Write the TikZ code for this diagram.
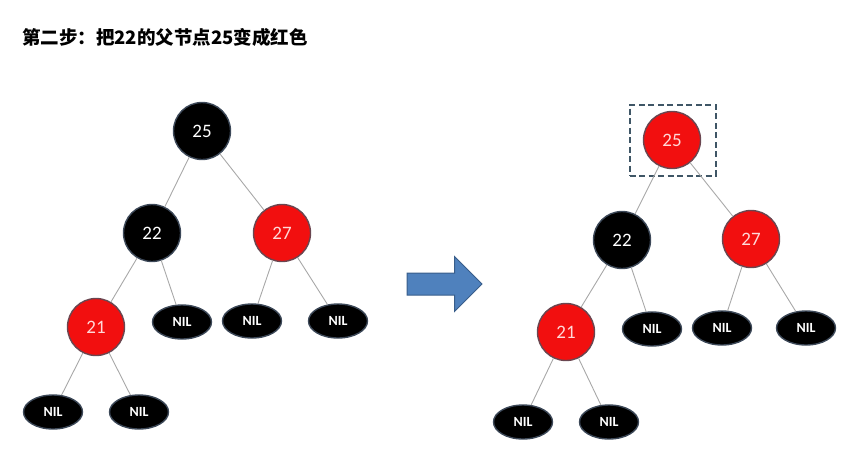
\documentclass[tikz,border=0pt]{standalone}
\usepackage{fontspec}
\setmainfont{Carlito}
\newfontfamily\cjk{Noto Sans CJK SC}
\usepackage{tikz}
\usetikzlibrary{shapes.geometric, shapes.arrows, positioning}

\definecolor{rbred}{HTML}{F20F0F}
\definecolor{rbedge}{HTML}{A8A8A8}
\definecolor{rbrim}{HTML}{3C4858}
\definecolor{redrim}{HTML}{6A4650}
\definecolor{arrfill}{HTML}{4F81BD}
\definecolor{arrdraw}{HTML}{385D8A}
\definecolor{boxdraw}{HTML}{3F5666}

\begin{document}
\begin{tikzpicture}[
    x=1pt, y=-1pt,
    blacknode/.style = {
        circle, draw=rbrim, line width=1.4pt, fill=black,
        minimum size=57pt, inner sep=0pt,
        text=white, font=\fontsize{19}{19}\selectfont
    },
    rednode/.style = {
        circle, draw=redrim, line width=1.4pt, fill=rbred,
        minimum size=57pt, inner sep=0pt,
        text=red!15, font=\fontsize{19}{19}\selectfont
    },
    nilnode/.style = {
        ellipse, draw=rbrim, line width=1.4pt, fill=black,
        minimum width=59pt, minimum height=34pt, inner sep=0pt,
        text=white, font=\fontsize{14}{14}\selectfont\bfseries
    },
    edge/.style = {draw=rbedge, line width=0.9pt}
]
\useasboundingbox (0,0) rectangle (853,453);

% Título
\node[anchor=west, inner sep=0pt, font=\cjk\bfseries\fontsize{18.5}{18.5}\selectfont] (title)
    at (22,37) {第二步：把22的父节点25变成红色};

% Árbol izquierdo
\node[blacknode] (l25) at (202,131) {25};
\node[blacknode] (l22) at (152,233) {22};
\node[rednode]   (l27) at (282,233) {27};
\node[rednode]   (l21) at (96,327)  {21};
\node[nilnode]   (ln1) at (182,322) {NIL};
\node[nilnode]   (ln2) at (252,321) {NIL};
\node[nilnode]   (ln3) at (338,321) {NIL};
\node[nilnode]   (ln4) at (53,412)  {NIL};
\node[nilnode]   (ln5) at (139,412) {NIL};

% Flecha central
\node[single arrow, draw=arrdraw, fill=arrfill, line width=1pt,
      minimum height=75pt, inner xsep=0pt, inner ysep=10.5pt,
      single arrow head extend=16.5pt, single arrow tip angle=90] (arr)
    at (439,284) {};

% Árbol derecho
\node[rednode]   (r25) at (672,140) {25};
\node[blacknode] (r22) at (622,240) {22};
\node[rednode]   (r27) at (751,239) {27};
\node[rednode]   (r21) at (566,332) {21};
\node[nilnode]   (rn1) at (652,329) {NIL};
\node[nilnode]   (rn2) at (722,328) {NIL};
\node[nilnode]   (rn3) at (806,328) {NIL};
\node[nilnode]   (rn4) at (523,422) {NIL};
\node[nilnode]   (rn5) at (609,422) {NIL};

% Recuadro punteado
\node[draw=boxdraw, line width=2pt, dash pattern=on 6pt off 3.5pt,
      minimum width=86pt, minimum height=71pt, inner sep=0pt] (mark)
    at (672.5,140) {};

% Aristas
\draw[edge] (l25) -- (l22);
\draw[edge] (l25) -- (l27);
\draw[edge] (l22) -- (l21);
\draw[edge] (l22) -- (ln1);
\draw[edge] (l27) -- (ln2);
\draw[edge] (l27) -- (ln3);
\draw[edge] (l21) -- (ln4);
\draw[edge] (l21) -- (ln5);
\draw[edge] (r25) -- (r22);
\draw[edge] (r25) -- (r27);
\draw[edge] (r22) -- (r21);
\draw[edge] (r22) -- (rn1);
\draw[edge] (r27) -- (rn2);
\draw[edge] (r27) -- (rn3);
\draw[edge] (r21) -- (rn4);
\draw[edge] (r21) -- (rn5);

\end{tikzpicture}
\end{document}
